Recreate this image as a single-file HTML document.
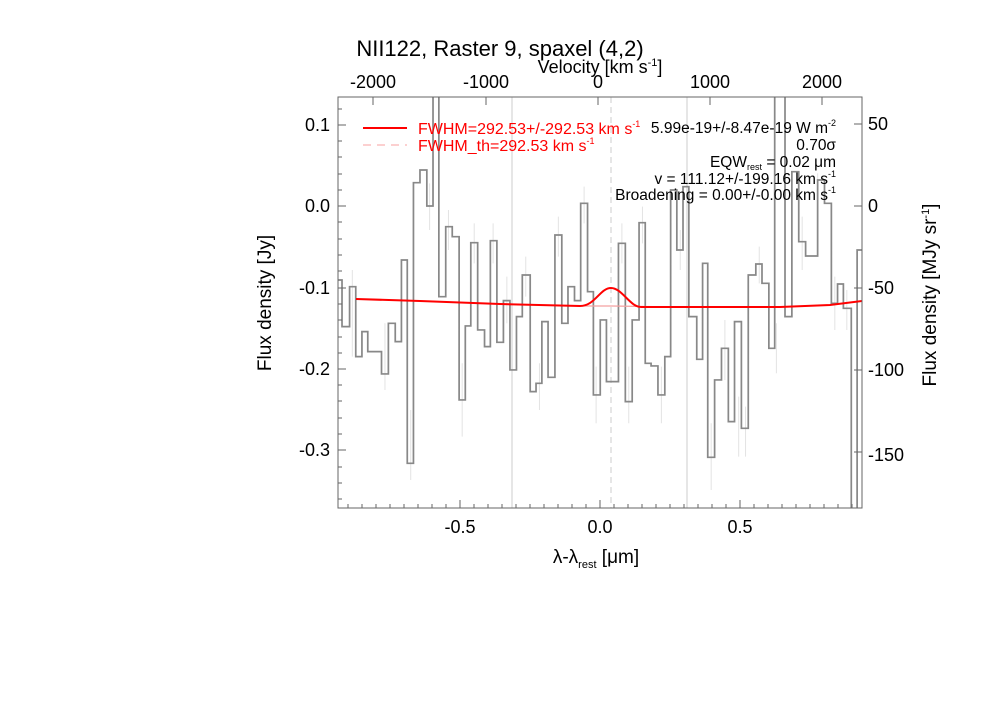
<!DOCTYPE html>
<html><head><meta charset="utf-8"><style>
body{margin:0;background:#fff;}
svg text{font-family:"Liberation Sans",sans-serif;}
</style></head><body>
<svg width="1000" height="714" viewBox="0 0 1000 714" xmlns="http://www.w3.org/2000/svg">
<rect width="1000" height="714" fill="#fff"/>
<defs><clipPath id="c"><rect x="338" y="97" width="524" height="411"/></clipPath></defs>
<g clip-path="url(#c)">
<line x1="512" y1="97" x2="512" y2="508" stroke="#ccc" stroke-width="1"/>
<line x1="687" y1="97" x2="687" y2="508" stroke="#ccc" stroke-width="1"/>
<line x1="611" y1="97" x2="611" y2="508" stroke="#ccc" stroke-width="1" stroke-dasharray="6,4"/>
<g transform="translate(330,90) scale(0.3434,0.3333)" fill="none">
<g stroke="#e4e4e4" stroke-width="3">
<path d="M65,540V800M160,700V900M235,960V1170M290,280V420M345,360V480M385,820V1040M420,400V520M475,400V520M515,560V700M570,500V620M610,820V960M665,380V500M740,290V400M775,830V1000M850,400V520M870,830V1000M910,350V460M965,830V1000M1020,420V540M1110,1000V1200M1150,690V870M1190,920V1100M1210,950V1100M1250,470V580M1300,700V850M1375,380V540M1420,250V400M1470,560V720M1505,600V720"/>
</g>
<path stroke="#888" stroke-width="5" d="M22,570H35V710H57V590H75V800H93V725H110V785H150V852H170V700H190V755H208V510H225V1120H243V278H262V240H282V348H300V-50H317V620H337V410H356V440H376V930H394V708H410V458H430V720H450V770H467V452H486V757H505V632H524V840H543V680H560V555H583V905H600V880H617V695H635V862H655V435H675V700H693V590H712V632H730V340H750V605H767V915H787V690H805V875H840V460H860V935H880V690H900V398H918V820H935V828H955V915H975V800H992V300H1010V480H1028V290H1045V680H1068V808H1085V520H1100V1102H1120V870H1140V775H1160V995H1178V695H1198V1015H1218V555H1240V522H1258V580H1278V775H1295V-50H1315V-50H1325V680H1345V245H1365V455H1385V498H1420V270H1440V340H1460V640H1478V582H1495V655H1518V1300H1535V480H1560"/>
</g>
<path d="M356,299 L420,301 L500,304 L580,306 L612,306 L680,307 L780,307 L830,305 L862,301" stroke="#f4a0a0" stroke-width="1.2" fill="none"/>
<path d="M356,299 L420,301 L500,304 L580,306 C595,306 600,288 611,288 C622,288 630,307 641,307 L780,307 L830,305 L862,301" stroke="#f00" stroke-width="2" fill="none"/>
</g>
<rect x="338" y="97" width="524" height="411" fill="none" stroke="#666" stroke-width="1"/>
<g stroke="#666" stroke-width="1">
<path d="M460,508v-8M600,508v-8M740,508v-8M390,508v-4M418,508v-4M432,508v-4M446,508v-4M474,508v-4M488,508v-4M502,508v-4M516,508v-4M530,508v-4M544,508v-4M558,508v-4M572,508v-4M586,508v-4M614,508v-4M628,508v-4M642,508v-4M656,508v-4M670,508v-4M684,508v-4M698,508v-4M712,508v-4M726,508v-4M754,508v-4M768,508v-4M782,508v-4M796,508v-4M810,508v-4M824,508v-4M838,508v-4M852,508v-4M404,508v-4M376,508v-4M362,508v-4M348,508v-4"/>
<path d="M373,97v8M486,97v8M598,97v8M710,97v8M822,97v8"/>
<path d="M338,125h8M338,206h8M338,288h8M338,369h8M338,450h8M338,109h4M338,141h4M338,157h4M338,174h4M338,190h4M338,222h4M338,239h4M338,255h4M338,271h4M338,304h4M338,320h4M338,337h4M338,353h4M338,385h4M338,401h4M338,418h4M338,434h4M338,467h4M338,483h4M338,499h4"/>
<path d="M862,124h-8M862,206h-8M862,288h-8M862,370h-8M862,452h-8"/>
</g>
<g font-size="18" fill="#000" text-anchor="middle">
<text x="460" y="533">-0.5</text><text x="600" y="533">0.0</text><text x="740" y="533">0.5</text>
<text x="373" y="88">-2000</text><text x="486" y="88">-1000</text><text x="598" y="88">0</text><text x="710" y="88">1000</text><text x="822" y="88">2000</text>
</g>
<g font-size="18" fill="#000" text-anchor="end">
<text x="330" y="131">0.1</text><text x="330" y="212">0.0</text><text x="330" y="294">-0.1</text><text x="330" y="375">-0.2</text><text x="330" y="456">-0.3</text>
</g>
<g font-size="18" fill="#000">
<text x="868" y="130">50</text><text x="868" y="212">0</text><text x="868" y="294">-50</text><text x="868" y="376">-100</text><text x="868" y="461">-150</text>
</g>
<text x="500" y="56" font-size="22" text-anchor="middle">NII122, Raster 9, spaxel (4,2)</text>
<text x="600" y="73" font-size="18" text-anchor="middle">Velocity [km s<tspan font-size="11" dy="-7">-1</tspan><tspan dy="7">]</tspan></text>
<text x="596" y="563" font-size="19" text-anchor="middle">λ-λ<tspan font-size="11" dy="5">rest</tspan><tspan dy="-5"> [μm]</tspan></text>
<text transform="translate(271,303) rotate(-90)" font-size="19" text-anchor="middle">Flux density [Jy]</text>
<text transform="translate(936,295) rotate(-90)" font-size="19" text-anchor="middle">Flux density [MJy sr<tspan font-size="11" dy="-7">-1</tspan><tspan dy="7">]</tspan></text>
<line x1="363" y1="128" x2="407" y2="128" stroke="#f00" stroke-width="2"/>
<line x1="363" y1="145" x2="407" y2="145" stroke="#f8a0a0" stroke-width="1" stroke-dasharray="8,6"/>
<g font-size="16" fill="#f00">
<text x="418" y="134">FWHM=292.53+/-292.53 km s<tspan font-size="9" dy="-7">-1</tspan></text>
<text x="418" y="151">FWHM_th=292.53 km s<tspan font-size="9" dy="-7">-1</tspan></text>
</g>
<g font-size="15.5" fill="#000" text-anchor="end">
<text x="836" y="133">5.99e-19+/-8.47e-19 W m<tspan font-size="9" dy="-7">-2</tspan></text>
<text x="836" y="150">0.70σ</text>
<text x="836" y="167">EQW<tspan font-size="9" dy="3">rest</tspan><tspan dy="-3"> = 0.02 μm</tspan></text>
<text x="836" y="184">v = 111.12+/-199.16 km s<tspan font-size="9" dy="-7">-1</tspan></text>
<text x="836" y="200">Broadening = 0.00+/-0.00 km s<tspan font-size="9" dy="-7">-1</tspan></text>
</g>
</svg>
</body></html>
